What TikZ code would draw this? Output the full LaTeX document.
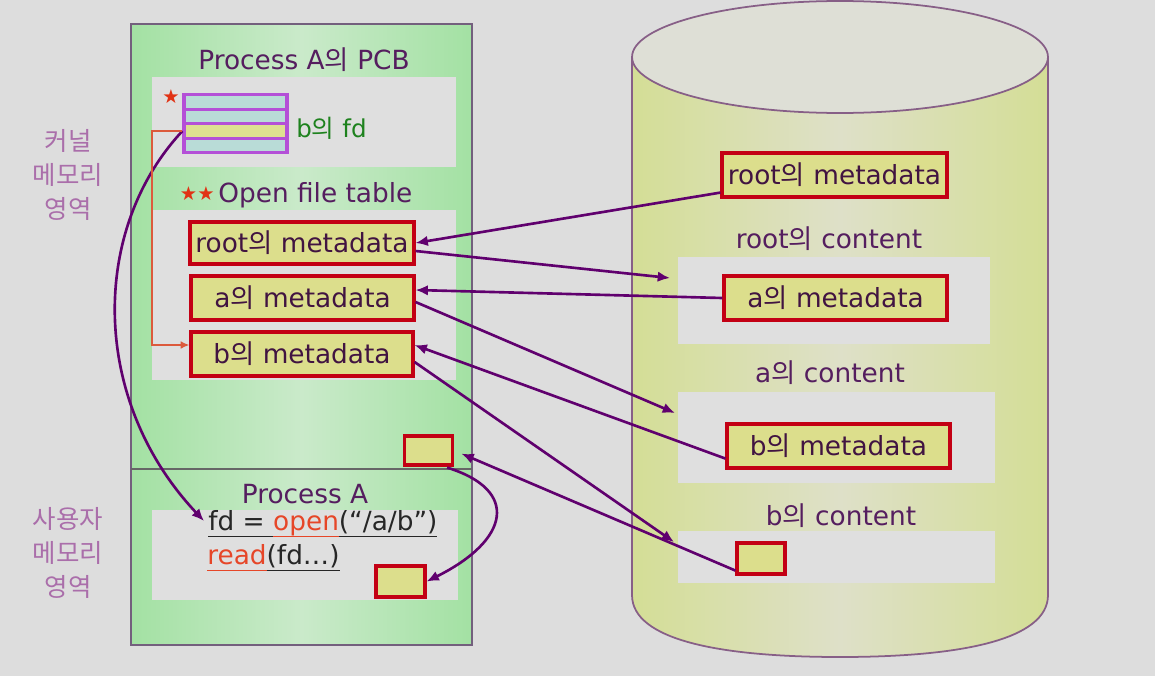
\documentclass[tikz,border=0pt]{standalone}
\usepackage{fontspec}
\setmainfont{DejaVu Sans}
\newfontfamily\cjk{Noto Sans CJK KR}
\usetikzlibrary{arrows.meta,calc}
\definecolor{bg}{RGB}{221,221,221}
\definecolor{panel}{RGB}{223,223,223}
\definecolor{greenE}{RGB}{163,225,163}
\definecolor{greenM}{RGB}{202,234,202}
\definecolor{frame}{RGB}{115,95,125}
\definecolor{cylE}{RGB}{212,222,150}
\definecolor{cylM}{RGB}{222,224,200}
\definecolor{cyltop}{RGB}{222,223,214}
\definecolor{cylline}{RGB}{135,95,135}
\definecolor{boxyellow}{RGB}{220,222,140}
\definecolor{boxred}{RGB}{195,0,20}
\definecolor{txt}{RGB}{65,20,65}
\definecolor{ttl}{RGB}{85,30,95}
\definecolor{lbl}{RGB}{170,110,170}
\definecolor{arrowc}{RGB}{96,0,110}
\definecolor{fdborder}{RGB}{180,80,215}
\definecolor{fdcyan}{RGB}{185,220,215}
\definecolor{fdyellow}{RGB}{222,224,145}
\definecolor{fdgreen}{RGB}{30,130,30}
\definecolor{codered}{RGB}{230,70,40}
\definecolor{linkred}{RGB}{220,90,60}
\definecolor{starred}{RGB}{225,50,20}
\newcommand\ui{{\cjk 의}}
\newcommand\myul[1]{\underline{\smash{#1}\vphantom{(}}}
\tikzset{
  meta/.style={draw=boxred, fill=boxyellow, line width=1.8pt, inner sep=0pt, text=txt, font=\fontsize{15}{18}\selectfont},
  smallbox/.style={draw=boxred, fill=boxyellow, line width=1.8pt, inner sep=0pt},
  fdrow/.style={draw=fdborder, fill=fdcyan, line width=1.8pt, minimum width=2.06cm, minimum height=0.29cm, inner sep=0pt},
  arr/.style={draw=arrowc, line width=1.5pt, -{Latex[length=7pt,width=6pt]}},
  title/.style={text=ttl, font=\fontsize{15}{18}\selectfont, inner sep=0pt},
  side/.style={text=lbl, font=\cjk\fontsize{14.5}{19.5}\selectfont, align=center},
  star/.style={text=starred, font=\fontsize{11}{12}\selectfont, inner sep=0pt},
}
\begin{document}
\begin{tikzpicture}[x=0.02cm,y=-0.02cm]
\useasboundingbox[fill=bg] (0,0) rectangle (1155,676);
% left memory block
\shade[left color=greenE, right color=greenE, middle color=greenM] (131,24) rectangle (472,645);
\draw[frame, line width=1.2pt] (131,24) rectangle (472,645);
\draw[gray!80!black, line width=1.4pt] (131,469) -- (472,469);
\fill[panel] (152,77) rectangle (456,167);
\fill[panel] (152,210) rectangle (456,380);
\fill[panel] (152,510) rectangle (458,600);
% cylinder
\shade[left color=cylE, right color=cylE, middle color=cylM]
  (632,57) -- (632,595) .. controls (632,640) and (720,657) .. (840,657)
  .. controls (960,657) and (1048,640) .. (1048,595) -- (1048,57) -- cycle;
\draw[cylline, line width=1pt]
  (632,57) -- (632,595) .. controls (632,640) and (720,657) .. (840,657)
  .. controls (960,657) and (1048,640) .. (1048,595) -- (1048,57);
\draw[cylline, line width=1pt, fill=cyltop] (840,57) ellipse [x radius=4.16cm, y radius=1.12cm];
\fill[panel] (678,257) rectangle (990,344);
\fill[panel] (678,392) rectangle (995,483);
\fill[panel] (678,531) rectangle (995,583);
% side labels
\node[side] (klbl) at (68,175) {커널\\메모리\\영역};
\node[side] (ulbl) at (68,553) {사용자\\메모리\\영역};
% PCB
\node[title] (pcbt) at (304,60) {Process A\ui{} PCB};
\node[star] (st1) at (171,97) {★};
\node[fdrow] (fd1) at (235.5,102) {};
\node[fdrow] (fd2) at (235.5,116.5) {};
\node[fdrow, fill=fdyellow] (fd3) at (235.5,131) {};
\node[fdrow] (fd4) at (235.5,145.5) {};
\node[text=fdgreen, font=\fontsize{14}{16}\selectfont, anchor=west, inner sep=0pt] (bfd) at (296,128) {b\ui{} fd};
% open file table
\node[star, anchor=east] (st2) at (215,194) {★★};
\node[title, anchor=west] (oftt) at (218,195) {Open file table};
\node[meta, minimum width=4.48cm, minimum height=0.84cm] (oroot) at (302,243) {root\ui{} metadata};
\node[meta, minimum width=4.46cm, minimum height=0.88cm] (oa) at (302.5,298) {a\ui{} metadata};
\node[meta, minimum width=4.44cm, minimum height=0.88cm] (ob) at (302,354) {b\ui{} metadata};
\node[smallbox, minimum width=0.96cm, minimum height=0.58cm] (kbox) at (428.5,450.5) {};
% process A
\node[title] (pat) at (305,494) {Process A};
\node[anchor=west, inner sep=0pt, text=black!85, font=\fontsize{15}{18}\selectfont] (code1) at (208,524)
  {\myul{fd = }{\color{codered}\myul{open}}\myul{(“/a/b”)}};
\node[anchor=west, inner sep=0pt, text=black!85, font=\fontsize{15}{18}\selectfont] (code2) at (207,558)
  {{\color{codered}\myul{read}}\myul{(fd…)}};
\node[smallbox, minimum width=0.98cm, minimum height=0.62cm] (ubox) at (400.5,581.5) {};
% disk
\node[meta, minimum width=4.5cm, minimum height=0.88cm] (droot) at (834.5,175) {root\ui{} metadata};
\node[title] (rct) at (829,239) {root\ui{} content};
\node[meta, minimum width=4.46cm, minimum height=0.88cm] (da) at (835.5,298) {a\ui{} metadata};
\node[title] (act) at (830,373) {a\ui{} content};
\node[meta, minimum width=4.46cm, minimum height=0.88cm] (db) at (838.5,446) {b\ui{} metadata};
\node[title] (bct) at (841,516) {b\ui{} content};
\node[smallbox, minimum width=0.96cm, minimum height=0.62cm] (dsm) at (761,558.5) {};
\coordinate (rcin) at (670,278);
\coordinate (acin) at (675,413);
\coordinate (bcin) at (674,542);
% connectors
\draw[arr] ($(droot.south west)+(0,-6)$) -- (oroot.east);
\draw[arr] ($(oroot.east)+(0,8)$) -- (rcin);
\draw[arr] (da.west) -- ($(oa.east)+(0,-8)$);
\draw[arr] ($(oa.east)+(0,4)$) -- (acin);
\draw[arr] ($(db.south west)+(0,-11)$) -- ($(ob.east)+(0,-9)$);
\draw[arr] ($(ob.east)+(0,8)$) -- (bcin);
\draw[arr, shorten >=0.16cm] ($(dsm.south west)+(0,-5)$) -- (kbox.east);
\draw[arr] ($(kbox.south east)+(-7,1)$) .. controls (520,490) and (510,540) .. (ubox.east);
\draw[arr] (fd3.west) .. controls (90,230) and (90,400) .. ($(code1.west)+(-4,-3)$);
\draw[draw=linkred, line width=1.1pt, -{Latex[length=5pt,width=4.5pt]}] (fd3.west) -- ++(-30,0) |- ($(ob.west)+(0,-9)$);
\end{tikzpicture}
\end{document}
